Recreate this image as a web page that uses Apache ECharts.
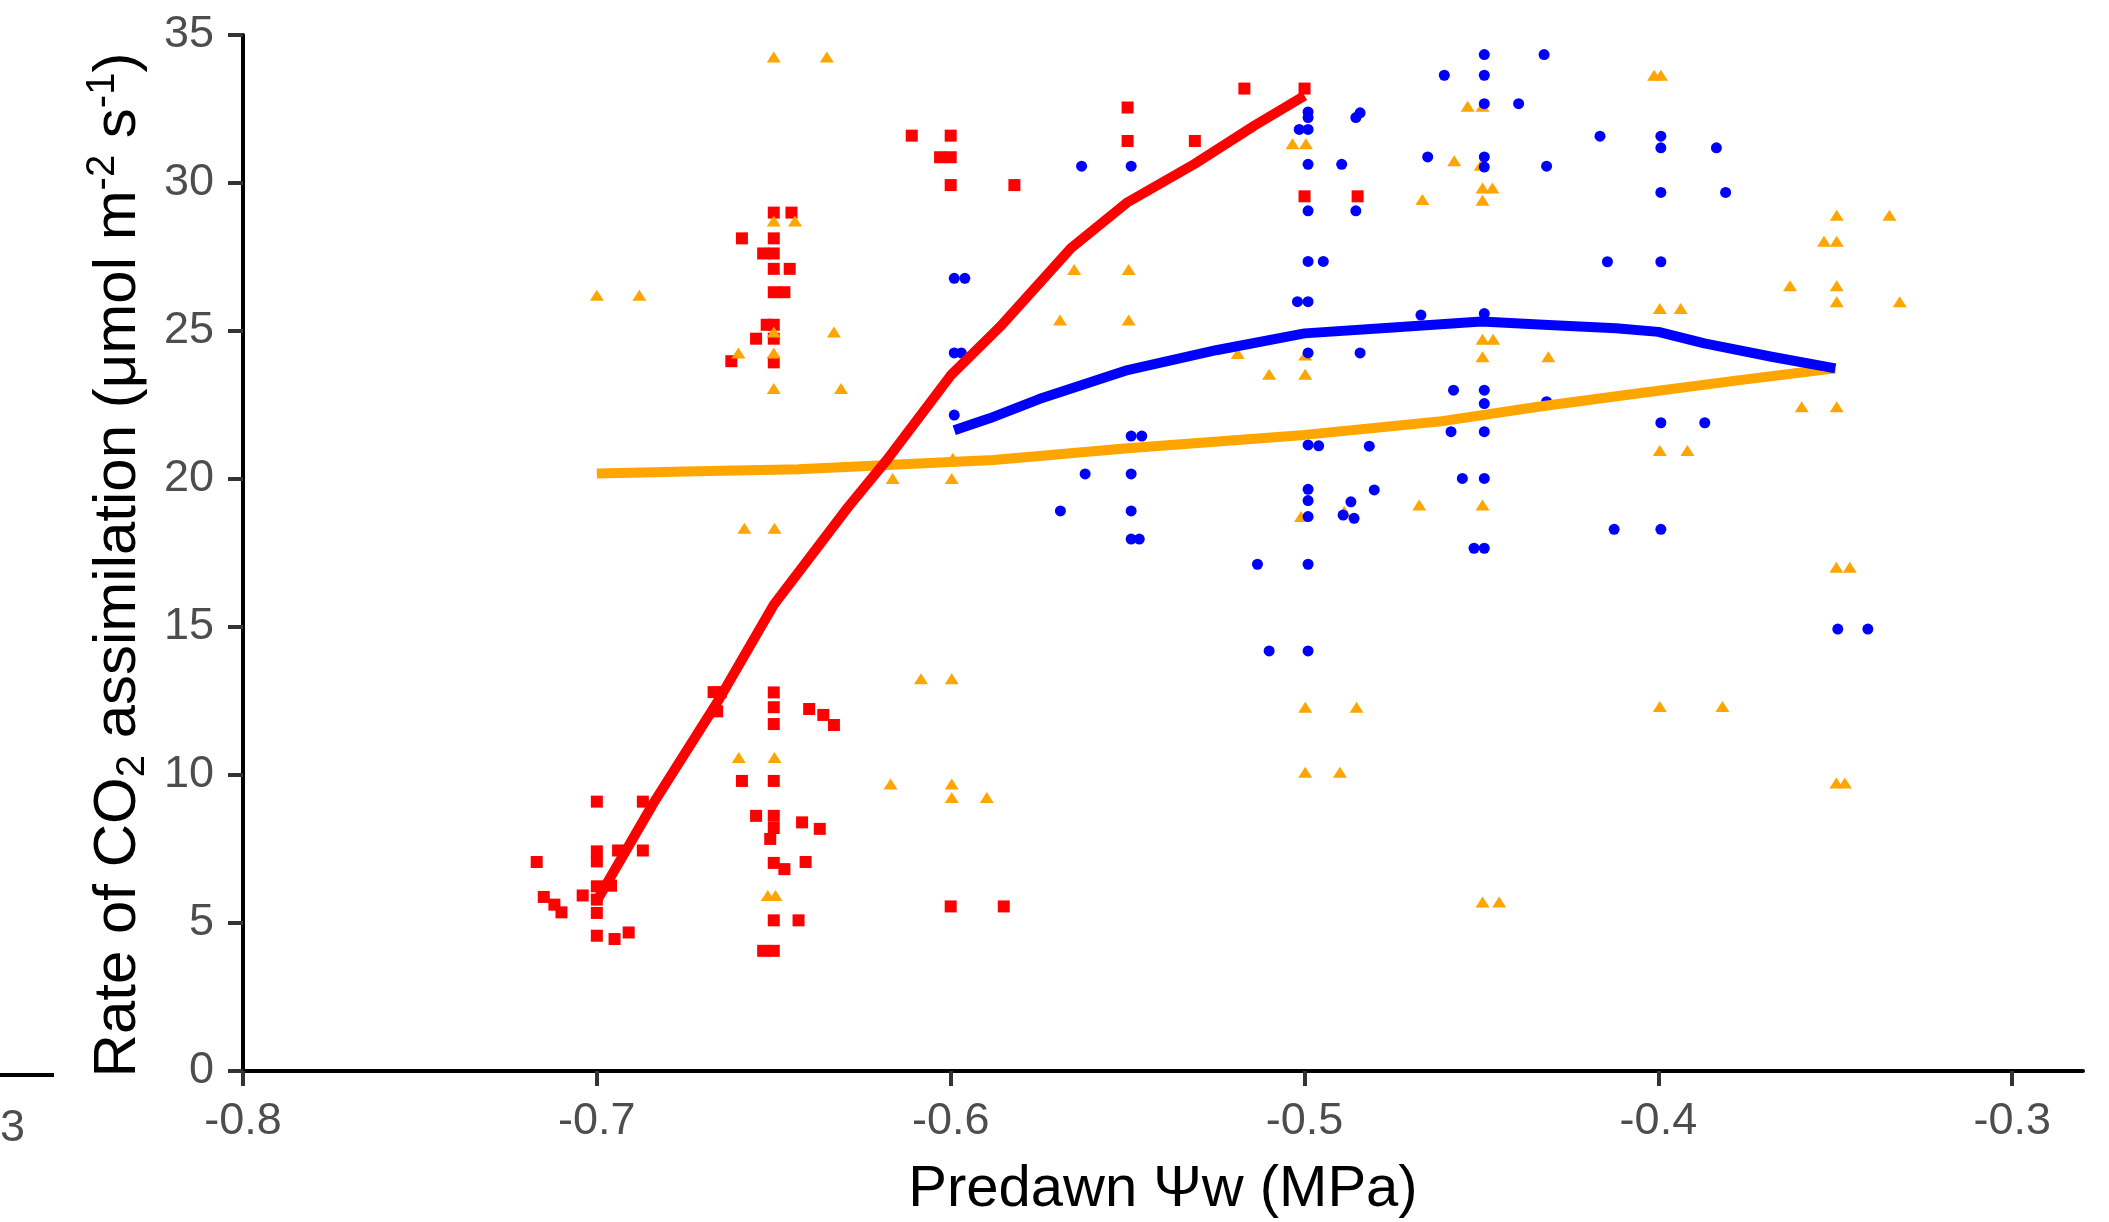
<!DOCTYPE html>
<html>
<head>
<meta charset="utf-8">
<title>CO2 assimilation vs predawn water potential</title>
<script src="https://cdn.jsdelivr.net/npm/echarts@6/dist/echarts.min.js"></script>
<style>
  html, body { margin: 0; padding: 0; background: #fff; }
  #chart { width: 2109px; height: 1222px; }
</style>
</head>
<body>
<div id="chart"></div>
<script>
// x tick values
const xTicks = [-0.8, -0.7, -0.6, -0.5, -0.4, -0.3]

// red squares
const redX = [-0.611, -0.600, -0.603, -0.600, -0.600, -0.650, -0.645, -0.659, -0.650, -0.653, -0.650, -0.650, -0.6455, -0.650, -0.647, -0.652, -0.650, -0.655, -0.650, -0.662, -0.650,
  -0.582, -0.550, -0.550, -0.531, -0.517, -0.500, -0.500, -0.485,
  -0.667, -0.665, -0.666, -0.650, -0.650, -0.650, -0.640, -0.636, -0.633, -0.659, -0.650, -0.700, -0.687, -0.655, -0.650, -0.650, -0.651, -0.642, -0.637,
  -0.700, -0.700, -0.694, -0.687, -0.717, -0.650, -0.647, -0.641, -0.715, -0.712, -0.710, -0.704, -0.700, -0.700, -0.700, -0.696,
  -0.700, -0.695, -0.691, -0.650, -0.643, -0.653, -0.650, -0.600, -0.585]
const redY = [31.6, 31.6, 30.87, 30.87, 29.93, 29.0, 29.0, 28.13, 28.13, 27.62, 27.62, 27.1, 27.1, 26.31, 26.31, 25.21, 25.21, 24.74, 24.74, 23.98, 23.94,
  29.93, 32.55, 31.42, 31.42, 33.19, 33.19, 29.55, 29.55,
  12.8, 12.8, 12.15, 12.79, 12.29, 11.72, 12.23, 12.03, 11.69, 9.8, 9.8, 9.1, 9.1, 8.62, 8.62, 8.21, 7.84, 8.4, 8.18,
  7.42, 7.08, 7.45, 7.45, 7.06, 7.03, 6.82, 7.06, 5.88, 5.62, 5.36, 5.93, 6.24, 5.79, 5.34, 6.26,
  4.57, 4.46, 4.68, 5.09, 5.09, 4.06, 4.06, 5.56, 5.56]

// blue circles
const blueX = [-0.599, -0.596, -0.599, -0.597, -0.599, -0.563, -0.549,
  -0.499, -0.499, -0.5015, -0.499, -0.4855, -0.4843, -0.499, -0.4895, -0.4605, -0.4652, -0.499, -0.4855, -0.499, -0.4947,
  -0.502, -0.499, -0.4671, -0.499, -0.4843, -0.4579, -0.4586, -0.549, -0.546, -0.499, -0.496, -0.4817, -0.4554, -0.562, -0.549,
  -0.499, -0.499, -0.4803, -0.4869, -0.4492, -0.4323, -0.4492, -0.4492, -0.4395, -0.4165, -0.3993, -0.3993, -0.3836,
  -0.4492, -0.4492, -0.4316, -0.3993, -0.381, -0.4144, -0.3993, -0.4492, -0.4492, -0.4492, -0.4316, -0.4492, -0.3993, -0.3869, -0.4492,
  -0.569, -0.549, -0.549, -0.5467, -0.5133, -0.499, -0.499, -0.4891, -0.486, -0.51, -0.499,
  -0.4125, -0.3993, -0.4521, -0.4492, -0.3493, -0.3408]
const blueY = [26.78, 26.78, 24.26, 24.26, 22.16, 30.57, 30.57,
  32.4, 32.21, 31.81, 31.81, 32.21, 32.37, 30.63, 30.63, 33.64, 30.88, 29.06, 29.06, 27.35, 27.35,
  25.99, 25.99, 25.54, 24.26, 24.26, 23.0, 21.6, 21.45, 21.45, 21.15, 21.12, 21.11, 20.02, 20.17, 20.17,
  19.65, 19.27, 19.63, 19.23, 34.34, 34.34, 33.64, 32.68, 32.68, 31.58, 31.58, 31.19, 31.19,
  30.88, 30.54, 30.57, 29.68, 29.68, 27.34, 27.34, 25.59, 23.0, 22.55, 22.61, 21.6, 21.9, 21.9, 20.02,
  18.92, 18.92, 17.97, 17.97, 17.12, 17.12, 18.73, 18.78, 18.67, 14.19, 14.19,
  18.3, 18.3, 17.66, 17.66, 14.93, 14.93]

// orange triangles
const orangeX = [-0.650, -0.635, -0.650, -0.644, -0.700, -0.688, -0.650, -0.633, -0.660, -0.650, -0.650, -0.631,
  -0.6164, -0.5997, -0.5994, -0.5651, -0.5497, -0.5691, -0.5497,
  -0.5034, -0.4996, -0.4577, -0.4667, -0.51, -0.4998, -0.5189, -0.4998, -0.4676, -0.501, -0.4888,
  -0.4012, -0.3993, -0.4539, -0.4497, -0.4502, -0.4497, -0.4469, -0.4497,
  -0.3496, -0.3347, -0.3532, -0.3496, -0.3628, -0.3496, -0.3496, -0.3318,
  -0.3996, -0.3937, -0.4497, -0.4467, -0.4497, -0.4311, -0.3595, -0.3496, -0.3996, -0.3918, -0.4497,
  -0.6583, -0.6498, -0.6084, -0.5997, -0.6599, -0.6498, -0.617, -0.5997, -0.5997, -0.5898, -0.6517, -0.6495,
  -0.4998, -0.4853, -0.4998, -0.49, -0.3497, -0.3459, -0.3996, -0.3819, -0.3497, -0.3473, -0.4497, -0.445]
const orangeY = [34.26, 34.26, 28.72, 28.72, 26.21, 26.21, 24.97, 24.97, 24.26, 24.26, 23.06, 23.06,
  20.02, 20.02, 20.7, 27.08, 27.08, 25.37, 25.37,
  31.33, 31.33, 30.75, 29.44, 23.54, 23.54, 24.24, 24.19, 19.12, 18.73, 18.9,
  33.64, 33.64, 32.59, 32.59, 30.6, 29.83, 29.83, 29.42,
  28.91, 28.91, 28.03, 28.03, 26.53, 26.53, 25.99, 25.99,
  25.76, 25.76, 24.72, 24.72, 24.13, 24.13, 22.44, 22.44, 20.96, 20.96, 19.12,
  18.34, 18.34, 13.25, 13.25, 10.59, 10.59, 9.7, 9.7, 9.24, 9.24, 5.93, 5.93,
  12.29, 12.29, 10.09, 10.09, 17.02, 17.02, 12.31, 12.31, 9.73, 9.73, 5.71, 5.71]

// fitted curves
const redFitX = [-0.7, -0.684, -0.666, -0.65, -0.629, -0.618, -0.6, -0.586, -0.566, -0.55, -0.531, -0.514, -0.5]
const redFitY = [5.75, 9.05, 12.45, 15.75, 19.05, 20.65, 23.5, 25.15, 27.8, 29.35, 30.65, 31.95, 32.95]
const blueFitX = [-0.599, -0.589, -0.575, -0.55, -0.525, -0.5, -0.475, -0.45, -0.431, -0.412, -0.4, -0.387, -0.368, -0.35]
const blueFitY = [21.65, 22.05, 22.7, 23.68, 24.35, 24.92, 25.12, 25.32, 25.2, 25.09, 24.97, 24.58, 24.13, 23.74]
const orangeFitX = [-0.7, -0.675, -0.643, -0.618, -0.588, -0.55, -0.5, -0.462, -0.434, -0.406, -0.377, -0.35]
const orangeFitY = [20.19, 20.25, 20.33, 20.47, 20.64, 21.04, 21.49, 21.94, 22.44, 22.89, 23.34, 23.74]

const FONT = 'Liberation Sans, Arial, Helvetica, sans-serif'

function pairs (xs, ys) {
  return xs.map((x, i) => [x, ys[i]])
}

function fitLine (xs, ys, color) {
  return {
    type: 'line',
    data: pairs(xs, ys),
    smooth: false,
    showSymbol: false,
    silent: true,
    z: 3,
    lineStyle: { color: color, width: 10, cap: 'butt', join: 'round' }
  }
}

function points (xs, ys, symbol, size, color) {
  return {
    type: 'scatter',
    data: pairs(xs, ys),
    symbol: symbol,
    symbolSize: size,
    itemStyle: { color: color, opacity: 1 },
    z: 2
  }
}

const chart = echarts.init(document.getElementById('chart'))
chart.setOption({
  animation: false,
  backgroundColor: '#ffffff',
  grid: {
    left: 243,
    right: 26,
    top: 35,
    bottom: 151,
    containLabel: false,
    outerBoundsMode: 'none'
  },
  xAxis: {
    type: 'value',
    min: -0.8,
    max: -0.28,
    name: 'Predawn Ψw (MPa)',
    nameLocation: 'middle',
    nameGap: 90,
    nameTextStyle: { fontFamily: FONT, fontSize: 58, color: '#000' },
    axisLine: { lineStyle: { color: '#000', width: 4 } },
    axisTick: { customValues: xTicks, length: 15, lineStyle: { color: '#333', width: 4 } },
    axisLabel: {
      customValues: xTicks,
      margin: 28,
      fontFamily: FONT,
      fontSize: 45,
      color: '#4d4d4d',
      formatter: v => v.toFixed(1)
    },
    splitLine: { show: false }
  },
  yAxis: {
    type: 'value',
    min: 0,
    max: 35,
    interval: 5,
    name: '{n|Rate of CO}{sub|2}{n| assimilation (μmol m}{sup|-2}{n| s}{sup|-1}{n|)}',
    nameLocation: 'middle',
    nameRotate: 90,
    nameGap: 88,
    nameTextStyle: {
      fontFamily: FONT,
      fontSize: 60,
      color: '#000',
      padding: [0, 24, 0, 0],
      rich: {
        n: { fontFamily: FONT, fontSize: 60, lineHeight: 70, color: '#000' },
        sub: { fontFamily: FONT, fontSize: 40, lineHeight: 26, verticalAlign: 'bottom', color: '#000' },
        sup: { fontFamily: FONT, fontSize: 40, lineHeight: 42, verticalAlign: 'top', color: '#000' }
      }
    },
    axisLine: { lineStyle: { color: '#000', width: 4 } },
    axisTick: { length: 15, lineStyle: { color: '#333', width: 4 } },
    axisLabel: { margin: 29, fontFamily: FONT, fontSize: 45, color: '#4d4d4d' },
    splitLine: { show: false }
  },
  graphic: [
    {
      type: 'line',
      shape: { x1: 0, y1: 1075, x2: 54, y2: 1075 },
      style: { stroke: '#000', lineWidth: 4 }
    },
    {
      type: 'text',
      x: 0,
      y: 1106,
      style: { text: '3', fontFamily: FONT, fontSize: 45, fill: '#4d4d4d' }
    }
  ],
  series: [
    points(redX, redY, 'rect', 12, '#ff0000'),
    points(orangeX, orangeY, 'triangle', [14, 11], '#ffa500'),
    points(blueX, blueY, 'circle', 11, '#0000ff'),
    fitLine(orangeFitX, orangeFitY, '#ffa500'),
    fitLine(redFitX, redFitY, '#ff0000'),
    fitLine(blueFitX, blueFitY, '#0000ff')
  ]
})
</script>
</body>
</html>
